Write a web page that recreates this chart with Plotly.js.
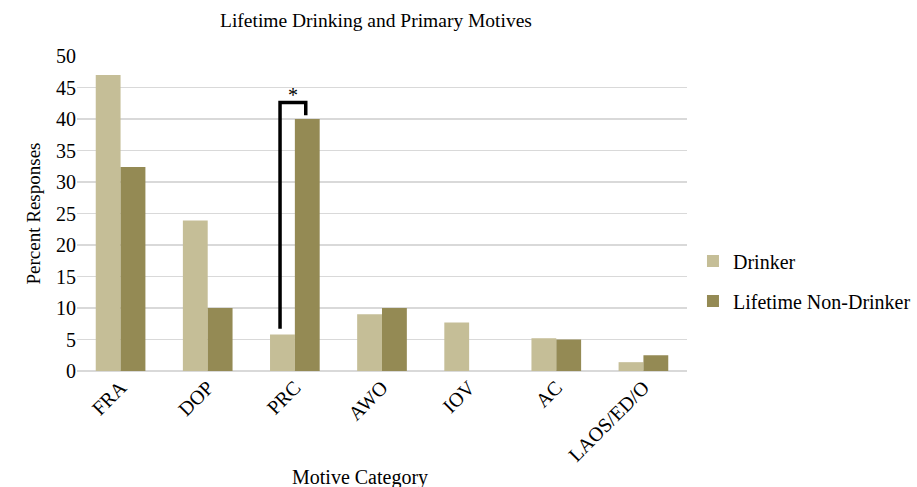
<!DOCTYPE html>
<html><head><meta charset="utf-8">
<script src="https://cdn.plot.ly/plotly-3.0.1.min.js"></script>
<style>body{margin:0;background:#fff}#c{width:917px;height:487px}</style>
</head><body><div id="c"></div>
<script>
const categories = ["FRA","DOP","PRC","AWO","IOV","AC","LAOS/ED/O"];
const drinker = [47.0, 23.9, 5.8, 9.0, 7.7, 5.2, 1.4];
const nonDrinker = [32.4, 10.0, 40.0, 10.0, 0, 5.0, 2.5];
const seriesNames = ["Drinker","Lifetime Non-Drinker"];
const yTicks = [0,5,10,15,20,25,30,35,40,45,50];
// significance bracket (category index offsets, values)
const bracketX = [1.83, 1.83, 2.125, 2.125];
const bracketY = [6.7, 42.6, 42.6, 40.6];
const starPos = {x: 1.98, y: 43.8};

const font = "Liberation Serif";
const traces = [
  {type:"bar", x:categories.map((c,i)=>i), y:drinker, name:seriesNames[0], marker:{color:"#C5BE97"}, legendgroup:"a"},
  {type:"bar", x:categories.map((c,i)=>i), y:nonDrinker, name:seriesNames[1], marker:{color:"#948A54"}, legendgroup:"b"}
];
const path = "M " + bracketX.map((x,i)=>x+","+bracketY[i]).join(" L ");
const layout = {
  width:917, height:487,
  margin:{l:77, r:230, t:56, b:116, autoexpand:false},
  paper_bgcolor:"#fff", plot_bgcolor:"#fff",
  font:{family:font, color:"#000", size:20},
  title:{text:"Lifetime Drinking and Primary Motives", font:{size:19.5, family:font, color:"#000"}, x:0.41, xanchor:"center", y:0.958, yanchor:"middle"},
  barmode:"group", bargap:0.43, bargroupgap:0,
  xaxis:{tickmode:"array", tickvals:categories.map((c,i)=>i), ticktext:categories, range:[-0.5,6.5],
         tickangle:-45, showgrid:false, zeroline:false, showline:false, ticks:"",
         tickfont:{size:20, family:font, color:"#000"}},
  yaxis:{range:[0,50], tickvals:yTicks, showgrid:true, gridcolor:"#D9D9D9", gridwidth:1.3,
         zeroline:true, zerolinecolor:"#D9D9D9", zerolinewidth:1.3, showline:false, ticks:"",
         tickfont:{size:20, family:font, color:"#000"},
         title:{text:"Percent Responses", font:{size:19, family:font, color:"#000"}, standoff:10}},
  legend:{x:1.0098, xanchor:"left", y:0.286, yanchor:"middle", font:{size:20, family:font, color:"#000"},
          traceorder:"grouped", tracegroupgap:11, bgcolor:"rgba(0,0,0,0)"},
  shapes:[{type:"path", xref:"x", yref:"y", path:path, line:{color:"#000", width:3.5}}],
  annotations:[
    {x:starPos.x, y:starPos.y, xref:"x", yref:"y", text:"*", showarrow:false, font:{size:20, family:font, color:"#000"}},
    {x:(360-77)/610, y:-(477-371)/315, xref:"paper", yref:"paper", text:"Motive Category", showarrow:false,
     xanchor:"center", yanchor:"middle", font:{size:20, family:font, color:"#000"}}
  ]
};
Plotly.newPlot("c", traces, layout, {displayModeBar:false, staticPlot:true});
</script></body></html>
